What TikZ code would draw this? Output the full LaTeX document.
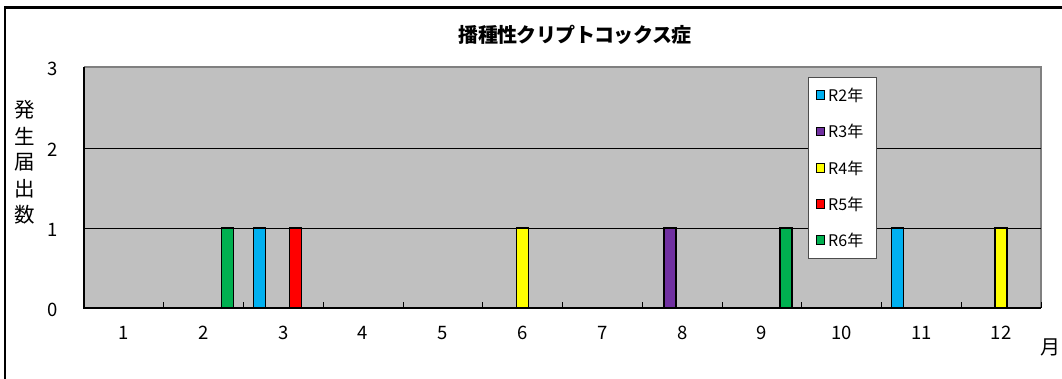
\documentclass[tikz,border=0pt]{standalone}
\usepackage{fontspec}
\setmainfont{Noto Sans CJK JP}
\newfontfamily\titlefont[LetterSpace=-3]{Noto Sans CJK JP}
\definecolor{plotbg}{HTML}{C0C0C0}
\definecolor{plotedge}{HTML}{808080}
\definecolor{cB}{HTML}{00B0F0}
\definecolor{cP}{HTML}{7030A0}
\definecolor{cY}{HTML}{FFFF00}
\definecolor{cR}{HTML}{FF0000}
\definecolor{cG}{HTML}{00B050}
\tikzset{
  bar/.style={draw=black, line width=1.4pt, inner sep=0pt, outer sep=0pt, minimum width=12pt, minimum height=80pt, anchor=south west},
  ticklab/.style={font=\fontsize{18.5}{18.5}\selectfont, inner sep=0pt},
  ytitle/.style={font=\fontsize{20.5}{20.5}\selectfont, inner sep=0pt},
  legtext/.style={font=\fontsize{16}{16}\selectfont, inner sep=0pt, anchor=west},
  legmark/.style={draw=black, line width=1pt, minimum size=8.5pt, inner sep=0pt},
  grid line/.style={draw=black, line width=0.8pt},
}
\begin{document}
\begin{tikzpicture}[x=1pt,y=-1pt]
\useasboundingbox (0,0) rectangle (1062,379);
\fill[white] (0,0) rectangle (1062,379);
% outer chart frame
\draw[line width=2.2pt] (5,379) -- (5,7.5) -- (1062,7.5);
% title
\node[font=\fontsize{20}{20}\selectfont\titlefont\bfseries, inner sep=0pt] (title) at (575,35) {播種性クリプトコックス症};
% plot area
\fill[plotbg] (84,67) rectangle (1041,308);
\draw[plotedge, line width=1.5pt] (84,67) -- (1041,67) -- (1041,308);
\draw[grid line] (84,148) -- (1041,148);
\draw[grid line] (84,228) -- (1041,228);
\draw[black, line width=1.2pt] (84,67) -- (84,308) -- (1041,308);
% ticks
\foreach \k in {1,...,12}
  \draw[black, line width=0.9pt] ({84+\k*79.75},308) -- ++(0,-6);
% y labels
\foreach \v/\yy in {3/69,2/150,1/230,0/310}
  \node[ticklab] (y\v) at (53,\yy) {\v};
% y title
\foreach \ch [count=\i] in {発,生,届,出,数}
  \node[ytitle] (yt\i) at (25,{84+\i*26.2}) {\ch};
% x labels
\foreach \m in {1,...,12}
  \node[ticklab] (x\m) at ({84+(\m-0.5)*79.75},333) {\m};
\node[ticklab, font=\fontsize{20}{20}\selectfont] (xunit) at (1050,347) {月};
% bars
\foreach \m/\s/\c in {3/0/cB, 11/0/cB, 8/1/cP, 6/2/cY, 12/2/cY, 3/3/cR, 2/4/cG, 9/4/cG}
  \node[bar, fill=\c] (b\m-\s) at ({84+(\m-1)*79.75+9.97+\s*11.96},308) {};
% legend
\node[draw=black!70, line width=1pt, fill=white, minimum width=68pt, minimum height=181pt, anchor=north west, inner sep=0pt] (legend) at (808,77) {};
\foreach \t/\c/\yy in {R2年/cB/95, R3年/cP/131.5, R4年/cY/168, R5年/cR/204, R6年/cG/240}{
  \node[legmark, fill=\c] (m\t) at (820.5,\yy) {};
  \node[legtext] (l\t) at (828,\yy) {\t};
}
\end{tikzpicture}
\end{document}
